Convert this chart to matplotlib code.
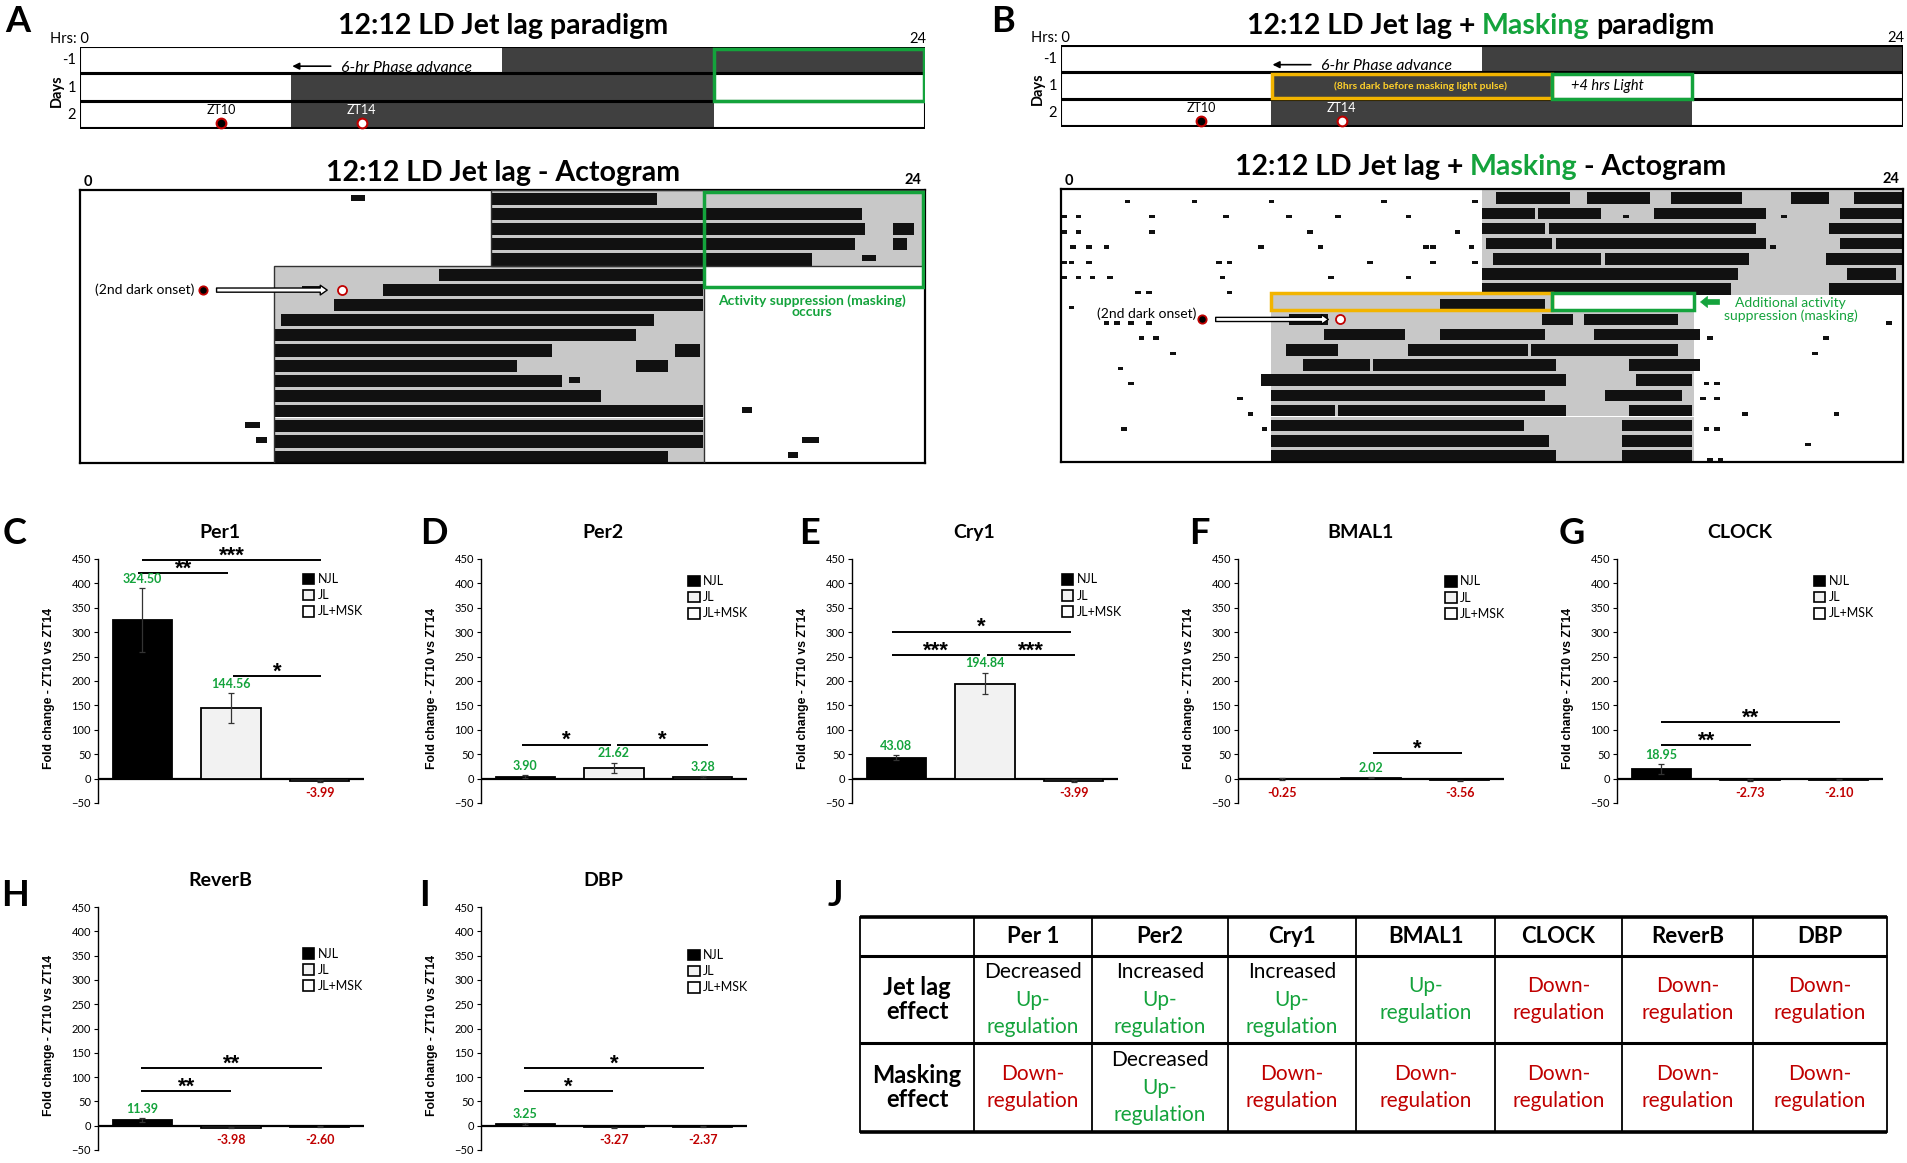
import numpy as np
import matplotlib
matplotlib.use('Agg')
import matplotlib.pyplot as plt
from matplotlib.patches import Rectangle

plt.rcParams['font.family'] = ['Lato', 'DejaVu Sans']

W, H = 1908, 1163
GREEN = '#14a33c'
RED = '#c00000'
GOLD = '#f2b400'
DARK = '#404040'
GRAY = '#c8c8c8'

# ---------------- data ----------------
genes = ['Per1', 'Per2', 'Cry1', 'BMAL1', 'CLOCK', 'ReverB', 'DBP']
groups = ['NJL', 'JL', 'JL+MSK']
njl = [324.50, 3.90, 43.08, -0.25, 18.95, 11.39, 3.25]
jl = [144.56, 21.62, 194.84, 2.02, -2.73, -3.98, -3.27]
jl_msk = [-3.99, 3.28, -3.99, -3.56, -2.10, -2.60, -2.37]
njl_err = [66, 3, 5, 2, 10, 4, 2]
jl_err = [31, 11, 22.5, 1, 1.5, 1.5, 1.5]
msk_err = [2, 2, 2, 1.5, 1.5, 1, 1]

# significance bars: (x from, x to, height, stars)
sig = {
    'Per1': [(-0.05, 0.97, 421, '**'), (0.0, 2.02, 448, '***'), (1.02, 2.02, 210, '*')],
    'Per2': [(-0.04, 0.97, 69.5, '*'), (1.03, 2.06, 69.5, '*')],
    'Cry1': [(-0.05, 1.97, 301, '*'), (-0.05, 0.94, 253, '***'), (1.02, 2.02, 253, '***')],
    'BMAL1': [(1.02, 2.03, 52.6, '*')],
    'CLOCK': [(0.0, 1.01, 68.7, '**'), (0.0, 2.02, 116, '**')],
    'ReverB': [(-0.01, 1.0, 70.8, '**'), (-0.01, 2.03, 119, '**')],
    'DBP': [(-0.02, 0.99, 71, '*'), (-0.02, 2.02, 119, '*')],
}
legend_top = [409, 405, 408, 404, 405, 354, 351]
legend_x = [0.77, 0.78, 0.79, 0.78, 0.74, 0.77, 0.78]
panel_letters = ['C', 'D', 'E', 'F', 'G', 'H', 'I']

# table J
table_cols = ['Per 1', 'Per2', 'Cry1', 'BMAL1', 'CLOCK', 'ReverB', 'DBP']
jetlag_note = ['Decreased', 'Increased', 'Increased', '', '', '', '']
jetlag_dir = ['Up', 'Up', 'Up', 'Up', 'Down', 'Down', 'Down']
masking_note = ['', 'Decreased', '', '', '', '', '']
masking_dir = ['Down', 'Up', 'Down', 'Down', 'Down', 'Down', 'Down']

# paradigm rows (-1, 1, 2): dark intervals in hours
paradigm_A = [[(12, 24)], [(6, 18)], [(6, 18)]]
paradigm_B = [[(12, 24)], [(6, 14)], [(6, 18)]]

# actogram A: lights-off interval per row, activity bouts per row
actoA_dark = [(11.67, 24.0)] * 5 + [(5.5, 17.73)] * 13
actoA_bouts = [
    [(11.7, 16.4)],
    [(11.7, 22.2)],
    [(11.7, 22.3), (23.1, 23.7)],
    [(11.7, 22.0), (23.1, 23.5)],
    [(11.7, 20.8)],
    [(10.2, 17.7)],
    [(8.6, 17.7)],
    [(7.2, 17.7)],
    [(5.7, 16.3)],
    [(5.5, 15.8)],
    [(5.5, 13.4), (16.9, 17.6)],
    [(5.5, 12.4), (15.8, 16.7)],
    [(5.5, 13.7)],
    [(5.5, 14.8)],
    [(5.5, 17.7)],
    [(5.5, 17.7)],
    [(5.5, 17.7)],
    [(5.5, 16.7)],
]
actoA_specks = [(0, 7.7, 8.1), (1, 21.4, 22.0), (4, 22.2, 22.6), (6, 6.3, 6.9),
                (12, 13.9, 14.2), (14, 18.8, 19.1), (15, 4.7, 5.1), (16, 5.0, 5.3),
                (16, 20.5, 21.0), (17, 20.1, 20.4)]

# actogram B
actoB_dark = [[(12.0, 24.0)]] * 7 + [[(6.0, 14.0)]] + [[(6.0, 18.04)]] * 10
actoB_bouts = [
    [(12.4, 14.5), (15.0, 16.8), (17.4, 19.4), (20.8, 21.9), (22.6, 24.0)],
    [(12.0, 13.5), (13.6, 15.4), (16.9, 20.1), (22.2, 24.0)],
    [(12.0, 13.8), (13.9, 19.8), (21.9, 24.0)],
    [(12.1, 14.0), (14.1, 20.1), (22.2, 24.0)],
    [(12.3, 15.4), (15.5, 19.6), (21.8, 24.0)],
    [(12.0, 19.3), (22.4, 23.8)],
    [(12.0, 19.1), (21.9, 24.0)],
    [(10.8, 13.8)],
    [(6.5, 7.6), (13.7, 14.6), (14.9, 17.6)],
    [(7.5, 9.8), (10.8, 13.8), (15.2, 18.2)],
    [(6.4, 7.9), (9.9, 13.3), (13.4, 17.6)],
    [(6.9, 8.8), (8.9, 14.1), (16.2, 18.2)],
    [(5.7, 14.4), (16.4, 18.0)],
    [(6.0, 13.8), (15.5, 17.7)],
    [(6.0, 7.8), (7.9, 14.4), (16.2, 18.0)],
    [(6.0, 13.2), (16.0, 18.0)],
    [(6.0, 13.9), (16.0, 18.0)],
    [(6.0, 14.1), (16.0, 18.0)],
]
actoB_dots = [
    (0, 1.9), (0, 3.8), (0, 6.0), (0, 9.2), (0, 11.8),
    (1, 0.1), (1, 0.5), (1, 2.6), (1, 4.7), (1, 6.5), (1, 7.9), (1, 9.9), (1, 16.1), (1, 20.6),
    (2, 0.1), (2, 0.5), (2, 2.6), (2, 7.1), (2, 11.3),
    (3, 0.35), (3, 0.8), (3, 1.3), (3, 5.7), (3, 7.4), (3, 10.4), (3, 10.6), (3, 11.7), (3, 20.3),
    (4, 0.1), (4, 0.3), (4, 0.8), (4, 4.5), (4, 4.8), (4, 8.8), (4, 10.6), (4, 11.8),
    (5, 0.1), (5, 0.5), (5, 0.9), (5, 1.4), (5, 4.6), (5, 7.7), (5, 9.9),
    (6, 2.2), (6, 2.5), (6, 4.8), (7, 0.3),
    (8, 1.3), (8, 1.6), (8, 2.0), (8, 2.5), (8, 23.6),
    (9, 2.3), (9, 2.7), (9, 18.5), (9, 21.8), (10, 3.2), (10, 21.5), (11, 1.7),
    (12, 2.0), (12, 18.4), (12, 18.7), (13, 5.1), (13, 18.3), (13, 18.7),
    (14, 5.4), (14, 19.5), (14, 22.1), (15, 1.8), (15, 5.8), (15, 18.4), (15, 18.7),
    (16, 21.3), (17, 18.5), (17, 18.8),
]

fig = plt.figure(figsize=(W / 100, H / 100), dpi=100)


def px_axes(left, top, right, bottom):
    return fig.add_axes([left / W, 1 - bottom / H, (right - left) / W, (bottom - top) / H])


def ftext(x, y, s, **kw):
    return fig.text(x / W, 1 - y / H, s, **kw)


def multicolor(xc, y, parts, **kw):
    r = fig.canvas.get_renderer()
    items = []
    for s, c in parts:
        t = ftext(0, y, s, color=c, ha='left', va='center', **kw)
        items.append((t, t.get_window_extent(r).width))
    gap = kw.get('fontsize', 10) * 0.23 * 100 / 72
    total = sum(w for _, w in items) + gap * (len(items) - 1)
    cur = xc - total / 2
    for t, w in items:
        t.set_x(cur / W)
        cur += w + gap


# ---------------- panels A / B: paradigms ----------------
def paradigm(ax, dark):
    ax.set_xlim(0, 24)
    ax.set_ylim(3, 0)
    ax.axis('off')
    for r, segs in enumerate(dark):
        for s, e in segs:
            ax.add_patch(Rectangle((s, r), e - s, 1, fc=DARK, ec='none'))
        ax.add_patch(Rectangle((0, r + 0.02), 24, 0.96, fill=False, ec='black', lw=1.5))
    ax.text(0.25, -0.27, 'Hrs: 0', ha='right', va='center', fontsize=10.5)
    ax.text(24.05, -0.27, '24', ha='right', va='center', fontsize=10.5)
    for r, lab in enumerate(['-1', '1', '2']):
        ax.text(-0.12, r + 0.5, lab, ha='right', va='center', fontsize=10.5)
    ax.text(-0.66, 1.6, 'Days', rotation=90, ha='center', va='center', fontsize=10.5, fontweight='bold')
    ax.annotate('', xy=(5.95, 0.72), xytext=(7.2, 0.72),
                arrowprops=dict(arrowstyle='-|>', color='black', lw=1.2, mutation_scale=10))
    ax.text(7.42, 0.93, '6-hr Phase advance', ha='left', va='baseline', fontsize=11.5, style='italic')
    ax.text(4.0, 2.31, 'ZT10', ha='center', va='center', fontsize=9)
    ax.text(8.0, 2.31, 'ZT14', ha='center', va='center', fontsize=9, color='white')
    ax.plot([4.0], [2.79], 'o', ms=7, mfc='black', mec=RED, mew=1.5, clip_on=False)
    ax.plot([8.0], [2.79], 'o', ms=7, mfc='white', mec=RED, mew=1.5, clip_on=False)


axA = px_axes(80, 46.5, 925, 128.5)
paradigm(axA, paradigm_A)
axA.add_patch(Rectangle((18, 0.08), 5.97, 1.92, fill=False, ec=GREEN, lw=2.5))

axB = px_axes(1061, 45, 1903, 127)
paradigm(axB, paradigm_B)
axB.add_patch(Rectangle((6.02, 1.07), 7.98, 0.88, fill=False, ec=GOLD, lw=2.5))
axB.add_patch(Rectangle((14.0, 1.05), 4.0, 0.92, fill=False, ec=GREEN, lw=2.5))
axB.text(10.24, 1.52, '(8hrs dark before masking light pulse)', ha='center', va='center',
         fontsize=7.5, color='#ffd02a', fontweight='bold')
axB.text(14.55, 1.5, '+4 hrs Light', ha='left', va='center', fontsize=10.5, style='italic')

ftext(503, 26, '12:12 LD Jet lag paradigm', ha='center', va='center', fontsize=20.5, fontweight='bold')
multicolor(1481, 26, [('12:12 LD Jet lag +', 'black'), ('Masking', GREEN), ('paradigm', 'black')],
           fontsize=20.5, fontweight='bold')
ftext(503, 173, '12:12 LD Jet lag - Actogram', ha='center', va='center', fontsize=20.5, fontweight='bold')
multicolor(1481, 167, [('12:12 LD Jet lag +', 'black'), ('Masking', GREEN), ('- Actogram', 'black')],
           fontsize=20.5, fontweight='bold')
ftext(18, 22, 'A', ha='center', va='center', fontsize=26, fontweight='bold')
ftext(1003, 21, 'B', ha='center', va='center', fontsize=26, fontweight='bold')


# ---------------- actograms ----------------
def acto_frame(ax, n):
    ax.set_xlim(0, 24)
    ax.set_ylim(n, 0)
    ax.set_xticks([])
    ax.set_yticks([])
    for s in ax.spines.values():
        s.set_linewidth(1.6)
    ax.text(0.1, -0.55, '0', ha='left', va='center', fontsize=10.5, fontweight='bold', clip_on=False)
    ax.text(23.9, -0.65, '24', ha='right', va='center', fontsize=10.5, fontweight='bold', clip_on=False)


axAA = px_axes(80, 190, 925, 463)
acto_frame(axAA, 18)
for r, (s, e) in enumerate(actoA_dark):
    axAA.add_patch(Rectangle((s, r), e - s, 1, fc=GRAY, ec='none', zorder=1))
axAA.add_patch(Rectangle((11.67, 0), 12.33, 5, fill=False, ec='#333333', lw=1.0, zorder=3))
axAA.add_patch(Rectangle((5.5, 5), 12.23, 13, fill=False, ec='#333333', lw=1.0, zorder=3))
for r, bouts in enumerate(actoA_bouts):
    axAA.broken_barh([(s, e - s) for s, e in bouts], (r + 0.18, 0.8), fc='#111111', zorder=2)
for r, s, e in actoA_specks:
    axAA.broken_barh([(s, e - s)], (r + 0.3, 0.4), fc='#111111', zorder=2)
axAA.add_patch(Rectangle((17.73, 0.1), 6.2, 6.3, fill=False, ec=GREEN, lw=2.5, zorder=4))
axAA.text(20.8, 7.3, 'Activity suppression (masking)', ha='center', va='center', fontsize=10,
          color=GREEN, fontweight='bold')
axAA.text(20.8, 8.05, 'occurs', ha='center', va='center', fontsize=10, color=GREEN, fontweight='bold')
axAA.text(3.25, 6.6, '(2nd dark onset)', ha='right', va='center', fontsize=10)
axAA.plot([3.5], [6.6], 'o', ms=6, mfc='black', mec=RED, mew=1.3, zorder=5)
axAA.annotate('', xy=(7.1, 6.6), xytext=(3.8, 6.6), zorder=5,
              arrowprops=dict(arrowstyle='simple,head_length=0.5,head_width=0.7,tail_width=0.3',
                              fc='white', ec='black', lw=1.0))
axAA.plot([7.45], [6.6], 'o', ms=6.5, mfc='white', mec=RED, mew=1.3, zorder=5)

axBB = px_axes(1061, 189, 1903, 462)
acto_frame(axBB, 18)
for r, segs in enumerate(actoB_dark):
    for s, e in segs:
        axBB.add_patch(Rectangle((s, r), e - s, 1, fc=GRAY, ec='none', zorder=1))
for r, bouts in enumerate(actoB_bouts):
    axBB.broken_barh([(s, e - s) for s, e in bouts], (r + 0.22, 0.76), fc='#111111', zorder=2)
for r, h in actoB_dots:
    axBB.broken_barh([(h - 0.08, 0.16)], (r + 0.72, 0.22), fc='#111111', zorder=2)
axBB.add_patch(Rectangle((6.0, 6.85), 8.0, 1.1, fill=False, ec=GOLD, lw=2.5, zorder=4))
axBB.add_patch(Rectangle((14.0, 6.85), 4.05, 1.1, fill=False, ec=GREEN, lw=2.5, zorder=4))
axBB.annotate('', xy=(18.15, 7.45), xytext=(18.85, 7.45), zorder=5,
              arrowprops=dict(arrowstyle='simple,head_length=0.5,head_width=0.8,tail_width=0.35',
                              fc=GREEN, ec=GREEN, lw=0.5))
axBB.text(20.8, 7.5, 'Additional activity', ha='center', va='center', fontsize=10, color=GREEN)
axBB.text(20.8, 8.35, 'suppression (masking)', ha='center', va='center', fontsize=10, color=GREEN)
axBB.text(3.86, 8.2, '(2nd dark onset)', ha='right', va='center', fontsize=10, zorder=5)
axBB.plot([4.02], [8.6], 'o', ms=6, mfc='black', mec=RED, mew=1.3, zorder=5)
axBB.annotate('', xy=(7.7, 8.6), xytext=(4.33, 8.6), zorder=5,
              arrowprops=dict(arrowstyle='simple,head_length=0.5,head_width=0.7,tail_width=0.3',
                              fc='white', ec='black', lw=1.0))
axBB.plot([7.94], [8.6], 'o', ms=6.5, mfc='white', mec=RED, mew=1.3, zorder=5)


# ---------------- bar charts C-I ----------------
def bar_panel(ax, i):
    g = genes[i]
    vals = [njl[i], jl[i], jl_msk[i]]
    errs = [njl_err[i], jl_err[i], msk_err[i]]
    x = np.arange(3)
    ax.bar(x, vals, width=0.67, color=['black', '#f2f2f2', 'white'], edgecolor='black',
           linewidth=1.3, zorder=3)
    ax.errorbar(x, vals, yerr=errs, fmt='none', ecolor='#333333', elinewidth=0.9,
                capsize=2.5, capthick=0.9, zorder=4)
    ax.axhline(0, color='black', lw=1.6, zorder=2)
    ax.set_xlim(-0.5, 2.5)
    ax.set_ylim(-50, 450)
    for s in ['top', 'right', 'bottom']:
        ax.spines[s].set_visible(False)
    ax.spines['left'].set_linewidth(1.0)
    ax.set_xticks([])
    ax.set_yticks(np.arange(-50, 451, 50))
    ax.tick_params(axis='y', labelsize=8, length=3, width=0.8, pad=2)
    ax.set_ylabel('Fold change - ZT10 vs ZT14', fontfamily='Liberation Sans', fontweight='bold',
                  fontsize=8.8)
    ax.yaxis.set_label_coords(-0.16, 0.47)
    ax.text(0.46, 1.11, g, transform=ax.transAxes, ha='center', va='center', fontsize=14,
            fontweight='bold')
    for xi, v, e in zip(x, vals, errs):
        if v > 0:
            ax.text(xi, v + e + 7, f'{v:.2f}', color=GREEN, ha='center', va='bottom',
                    fontsize=9, fontweight='bold')
        else:
            ax.text(xi, -17, f'{v:.2f}', color=RED, ha='center', va='top',
                    fontsize=9, fontweight='bold')
    for x1, x2, y, stars in sig[g]:
        ax.plot([x1, x2], [y, y], color='black', lw=1.4, solid_capstyle='butt')
        ax.text((x1 + x2) / 2, y - 3, stars, ha='center', va='baseline', fontsize=16,
                fontweight='bold', fontfamily='Liberation Sans', clip_on=False)
    trans = ax.get_yaxis_transform()
    for k, (lab, fc) in enumerate(zip(groups, ['black', '#f2f2f2', 'white'])):
        yk = legend_top[i] - 33 * k
        ax.add_patch(Rectangle((legend_x[i], yk - 11), 0.042, 22, transform=trans, fc=fc,
                               ec='black', lw=1.2, clip_on=False))
        ax.text(legend_x[i] + 0.055, yk, lab, transform=trans, ha='left', va='center', fontsize=9)


row1 = [98, 481, 852, 1238, 1617]
letter_pos = [(15, 533), (434, 533), (810, 533), (1199, 533), (1572, 533), (15, 895), (424, 895)]
for i in range(7):
    if i < 5:
        ax = px_axes(row1[i], 559, row1[i] + 266, 803)
    else:
        ax = px_axes([98, 481][i - 5], 907, [98, 481][i - 5] + 266, 1150)
    bar_panel(ax, i)
    lx, ly = letter_pos[i]
    ftext(lx, ly, panel_letters[i], ha='center', va='center', fontsize=26, fontweight='bold')

# ---------------- table J ----------------
ftext(835, 895, 'J', ha='center', va='center', fontsize=26, fontweight='bold')
tax = px_axes(850, 910, 1895, 1140)
tax.set_xlim(850, 1895)
tax.set_ylim(1140, 910)
tax.axis('off')
xs = [860, 974, 1092, 1228, 1356, 1495, 1622, 1753, 1887]
ys = [917, 956, 1043, 1132]
for yv, lw in zip(ys, [2.6, 2.2, 2.2, 2.6]):
    tax.plot([xs[0], xs[-1]], [yv, yv], color='black', lw=lw, solid_capstyle='butt')
for xv in xs:
    tax.plot([xv, xv], [ys[0], ys[-1]], color='black', lw=1.3)
for j, c in enumerate(table_cols):
    tax.text((xs[j + 1] + xs[j + 2]) / 2, (ys[0] + ys[1]) / 2, c, ha='center', va='center',
             fontsize=16, fontweight='bold')
for r, lab in enumerate(['Jet lag\neffect', 'Masking\neffect']):
    tax.text((xs[0] + xs[1]) / 2, (ys[r + 1] + ys[r + 2]) / 2, lab, ha='center', va='center',
             fontsize=17, fontweight='bold', linespacing=1.1)
for r, (notes, dirs) in enumerate([(jetlag_note, jetlag_dir), (masking_note, masking_dir)]):
    yc = (ys[r + 1] + ys[r + 2]) / 2
    for j in range(7):
        col = GREEN if dirs[j] == 'Up' else RED
        lines = [(dirs[j] + '-', col), ('regulation', col)]
        if notes[j]:
            lines = [(notes[j], 'black')] + lines
        n = len(lines)
        for k, (s, cc) in enumerate(lines):
            tax.text((xs[j + 1] + xs[j + 2]) / 2, yc + (k - (n - 1) / 2) * 27.5, s, ha='center',
                     va='center', fontsize=15, color=cc)

fig.savefig('out.png', dpi=100)
